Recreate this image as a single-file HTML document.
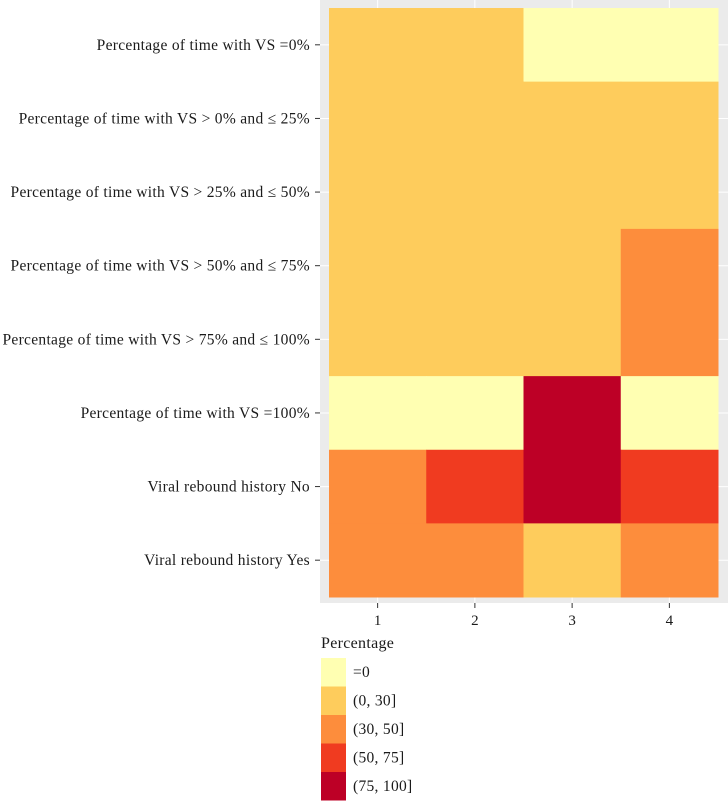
<!DOCTYPE html>
<html><head><meta charset="utf-8"><style>
body{margin:0;background:#fff;}
svg text{font-family:"Liberation Serif",serif;fill:#1a1a1a;}
</style></head><body>
<svg width="728" height="801" viewBox="0 0 728 801">
<rect x="320" y="0" width="408" height="603" fill="#ebebeb"/>
<g id="grid"></g>
<g id="cells"></g>
<g id="yaxis"></g>
<g id="xaxis"></g>
<g id="legend"></g>
</svg>
<script>
const rowLabels=["Percentage of time with VS =0%","Percentage of time with VS > 0% and \u2264 25%","Percentage of time with VS > 25% and \u2264 50%","Percentage of time with VS > 50% and \u2264 75%","Percentage of time with VS > 75% and \u2264 100%","Percentage of time with VS =100%","Viral rebound history No","Viral rebound history Yes"];
const colLabels=["1","2","3","4"];
const levelLabels=["=0","(0, 30]","(30, 50]","(50, 75]","(75, 100]"];
const levelColors=["#ffffb2","#fecc5c","#fd8d3c","#f03b20","#bd0026"];
const row1=[1,1,0,0];
const row2=[1,1,1,1];
const row3=[1,1,1,1];
const row4=[1,1,1,2];
const row5=[1,1,1,2];
const row6=[0,0,4,0];
const row7=[2,3,4,3];
const row8=[2,2,1,2];
const values=[row1,row2,row3,row4,row5,row6,row7,row8];

const NS="http://www.w3.org/2000/svg";
const x0=329,x1=718,y0=8,y1=597;
const cw=(x1-x0)/colLabels.length, rh=(y1-y0)/rowLabels.length;
const xs=i=>x0+i*cw, ys=j=>y0+j*rh;
function mk(tag,attrs,parent){const e=document.createElementNS(NS,tag);for(const k in attrs)e.setAttribute(k,attrs[k]);parent.appendChild(e);return e;}
const grid=document.getElementById('grid'),cells=document.getElementById('cells'),ya=document.getElementById('yaxis'),xa=document.getElementById('xaxis'),lg=document.getElementById('legend');
colLabels.forEach((c,i)=>{const l=mk('line',{x1:xs(i)+cw/2,x2:xs(i)+cw/2,y1:0,y2:603,stroke:'#fff','stroke-width':1},grid);

});
rowLabels.forEach((r,j)=>{const l=mk('line',{x1:320,x2:728,y1:ys(j)+rh/2,y2:ys(j)+rh/2,stroke:'#fff','stroke-width':1},grid);

});
values.forEach((row,j)=>row.forEach((v,i)=>{const r=mk('rect',{x:xs(i),y:ys(j),width:cw+0.5,height:rh+0.5,fill:levelColors[v]},cells);

}));
rowLabels.forEach((r,j)=>{const y=ys(j)+rh/2;
const t=mk('line',{x1:315,x2:320,y1:y,y2:y,stroke:'#333','stroke-width':1},ya);


const tx=mk('text',{x:310,y:y+5,'text-anchor':'end','font-size':'15.5','letter-spacing':'0.3'},ya);tx.textContent=r;

});
colLabels.forEach((c,i)=>{const x=xs(i)+cw/2;
const t=mk('line',{x1:x,x2:x,y1:603,y2:608,stroke:'#333','stroke-width':1},xa);


const tx=mk('text',{x:x,y:625,'text-anchor':'middle','font-size':'15'},xa);tx.textContent=c;

});
const lt=mk('text',{x:321,y:648,'font-size':'16','letter-spacing':'0.3'},lg);lt.textContent='Percentage';


levelLabels.forEach((l,k)=>{const y=658+k*28.5;
const r=mk('rect',{x:321,y:y,width:25,height:28.5,fill:levelColors[k]},lg);


const t=mk('text',{x:353,y:y+19,'font-size':'15.5','letter-spacing':'0.3'},lg);t.textContent=l;

});
</script>
</body></html>
